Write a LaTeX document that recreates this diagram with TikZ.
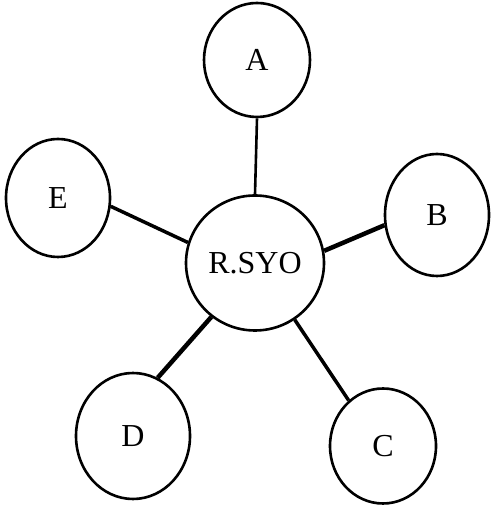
\documentclass[tikz,border=0pt]{standalone}
\usepackage{fontspec}
\setmainfont{Liberation Serif}
\usetikzlibrary{shapes.geometric}
\begin{document}
\begin{tikzpicture}[x=1pt,y=1pt,
  bubble/.style={draw, ellipse, line width=2.6pt, inner sep=0pt,
    font=\fontsize{32}{34}\selectfont},
  spoke/.style={line width=3.5pt}]
\useasboundingbox (0,0) rectangle (491,510);
% outer members (y measured upward)
\node[bubble, minimum width=106pt, minimum height=114pt] (a) at (257,450) {A};
\node[bubble, minimum width=104pt, minimum height=118pt] (e) at (58,312) {E};
\node[bubble, minimum width=104pt, minimum height=122pt] (b) at (437,295) {B};
\node[bubble, minimum width=114pt, minimum height=126pt] (d) at (133,74) {D};
\node[bubble, minimum width=106pt, minimum height=115pt] (c) at (383,64) {C};
% hub
\node[bubble, minimum width=138pt, minimum height=135pt] (hub) at (255,247) {R.SYO};
% spokes
\draw[line width=2.6pt] (a.south) -- (hub.north);
\draw[spoke] (e.-9) -- (hub.163);
\draw[spoke, line width=4.5pt] (b.191) -- (hub.10);
\draw[spoke, line width=4.5pt] (d.67) -- (hub.231);
\draw[spoke] (c.127) -- (hub.305);
\end{tikzpicture}
\end{document}
